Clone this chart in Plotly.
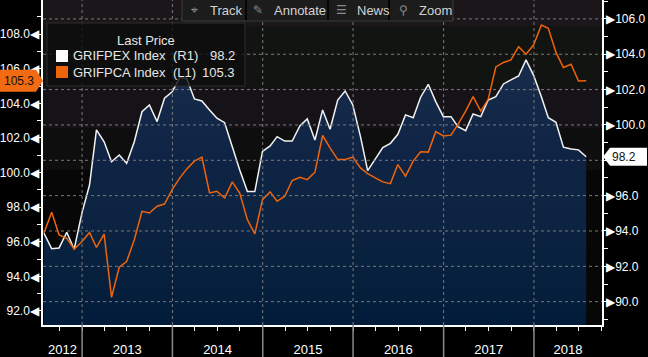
import plotly.graph_objects as go
import pandas as pd

# ---------------- data ----------------
start_month = "2012-07-01"
n_months = 73
dates = pd.date_range(start_month, periods=n_months, freq="MS") + pd.offsets.MonthEnd(0)

grifpex = [93.87, 93.00, 93.04, 93.93, 92.97, 95.00, 96.60, 99.72, 99.05, 97.92,
           98.30, 97.83, 99.05, 100.75, 101.13, 100.19, 101.51, 101.88, 102.68, 102.62,
           101.47, 101.36, 100.85, 100.38, 100.13, 98.77, 97.45, 96.23, 96.23, 98.50,
           98.81, 99.34, 99.09, 99.09, 99.94, 100.34, 99.15, 100.85, 99.76, 101.41,
           101.92, 101.13, 99.34, 97.42, 98.12, 98.72, 98.96, 99.47, 100.57, 100.41,
           101.57, 102.30, 101.32, 100.47, 100.47, 99.90, 99.68, 100.62, 100.47, 101.41,
           101.60, 102.32, 102.55, 102.77, 103.68, 102.79, 101.60, 100.41, 100.15, 98.74,
           98.64, 98.59, 98.20]

grifpca = [96.50, 97.70, 96.40, 96.20, 95.58, 96.00, 96.54, 95.67, 96.44, 92.79,
           94.53, 94.86, 96.12, 97.76, 97.66, 98.05, 98.18, 99.01, 99.69, 100.21,
           100.66, 100.89, 98.82, 98.92, 98.53, 99.46, 98.82, 97.28, 96.46, 98.43,
           98.88, 98.34, 98.63, 99.54, 99.73, 99.59, 100.02, 102.14, 101.43, 100.75,
           100.75, 100.89, 100.27, 99.94, 99.69, 99.46, 99.36, 100.46, 99.79, 100.66,
           101.20, 101.18, 102.36, 102.11, 102.16, 102.78, 103.55, 104.39, 103.55, 104.23,
           106.10, 106.36, 106.51, 107.27, 106.84, 107.38, 108.52, 108.33, 106.94, 106.07,
           106.26, 105.29, 105.30]

year_labels = ["2012", "2013", "2014", "2015", "2016", "2017", "2018"]
left_ticks = [92, 94, 96, 98, 100, 102, 104, 106, 108]
right_ticks = [90, 92, 94, 96, 98, 100, 102, 104, 106]
names = ["GRIFPEX Index", "GRIFPCA Index"]
axis_tags = ["(R1)", "(L1)"]
toolbar_labels = ["Track", "Annotate", "News", "Zoom"]
toolbar_icons = ["⌖", "✎", "☰", "⚲"]

# ---------------- layout geometry ----------------
WIDTH, HEIGHT = 648, 357
L, R, T, B = 43, 46, 0, 32
W = WIDTH - L - R
H = HEIGHT - T - B

def fx(px):
    return (px - L) / W

def fy(py):
    return 1 - (py - T) / H

x_start = pd.Timestamp("2012-07-27")
x_end = pd.Timestamp("2018-10-03")
right_range = [88.68, 107.07]
left_range = [91.19, 109.97]

WHITE = "#f2f2f2"
ORANGE = "#f0640a"
FONT = "Liberation Sans"
GRID = "#7a7a7a"

# year label centres (centre of visible part of each year)
centres = []
for y in year_labels:
    a = max(pd.Timestamp(f"{y}-01-01"), x_start)
    b = min(pd.Timestamp(f"{int(y)+1}-01-01"), x_end)
    centres.append(a + (b - a) / 2)

fig = go.Figure()

# white series with gradient fill (right scale, main axis -> drawn underneath)
fig.add_trace(go.Scatter(
    x=dates, y=grifpex, yaxis="y", mode="lines",
    line=dict(color=WHITE, width=1.5),
    fill="tozeroy",
    fillgradient=dict(type="vertical", start=right_range[0], stop=104,
                      colorscale=[[0, "#011c3a"], [0.35, "#0b2340"], [0.6, "#0f2444"], [1, "#182c4c"]]),
    hoverinfo="skip", showlegend=False))

# orange series (left scale, overlay axis -> drawn on top)
fig.add_trace(go.Scatter(
    x=dates, y=grifpca, yaxis="y2", mode="lines",
    line=dict(color=ORANGE, width=1.5),
    hoverinfo="skip", showlegend=False))

shapes = []
# background bands
bands = [(0, 26, "#1a1619"), (26, 88, "#121412"), (88, 128, "#161318"),
         (128, 170, "#0e0e0e"), (170, 325, "#070707")]
for y0, y1, c in bands:
    shapes.append(dict(type="rect", xref="paper", yref="paper", x0=0, x1=1,
                       y0=fy(y1), y1=fy(y0), fillcolor=c, line=dict(width=0), layer="below"))

# dashed gridlines
for v in right_ticks:
    shapes.append(dict(type="line", xref="paper", yref="y", x0=0, x1=1, y0=v, y1=v,
                       line=dict(color=GRID, width=1, dash="dot"), layer="above"))
for y in year_labels[1:]:
    shapes.append(dict(type="line", xref="x", yref="paper", x0=f"{y}-01-01", x1=f"{y}-01-01",
                       y0=0, y1=1, line=dict(color=GRID, width=1, dash="dot"), layer="above"))
    # year separators below axis
    shapes.append(dict(type="line", xref="x", yref="paper", x0=f"{y}-01-01", x1=f"{y}-01-01",
                       y0=fy(HEIGHT), y1=0, line=dict(color="#8a8a8a", width=1.5), layer="above"))

# legend box
shapes.append(dict(type="rect", xref="paper", yref="paper", x0=fx(47), x1=fx(245),
                   y0=fy(86), y1=fy(23), fillcolor="rgba(12,12,12,0.8)",
                   line=dict(color="#2c2c2c", width=1), layer="above"))
shapes.append(dict(type="rect", xref="paper", yref="paper", x0=fx(56), x1=fx(68),
                   y0=fy(62), y1=fy(50), fillcolor="#ffffff", line=dict(width=0), layer="above"))
shapes.append(dict(type="rect", xref="paper", yref="paper", x0=fx(56), x1=fx(68),
                   y0=fy(78), y1=fy(66), fillcolor=ORANGE, line=dict(width=0), layer="above"))

# toolbar
shapes.append(dict(type="rect", xref="paper", yref="paper", x0=fx(182), x1=fx(453),
                   y0=fy(21), y1=fy(-2), fillcolor="#1c1c1c",
                   line=dict(color="#3a3a3a", width=1), layer="above"))
for sx in [246, 328, 389]:
    shapes.append(dict(type="line", xref="paper", yref="paper", x0=fx(sx), x1=fx(sx),
                       y0=fy(20), y1=fy(0), line=dict(color="#050505", width=2), layer="above"))

# last-value tags
shapes.append(dict(type="path", xref="paper", xsizemode="pixel", xanchor=0,
                   yref="y2", ysizemode="pixel", yanchor=grifpca[-1],
                   path="M-43,-11 L-7,-11 L0,0 L-7,11 L-43,11 Z",
                   fillcolor="#f26b12", line=dict(width=0), layer="above"))
shapes.append(dict(type="path", xref="paper", xsizemode="pixel", xanchor=1,
                   yref="y", ysizemode="pixel", yanchor=grifpex[-1],
                   path="M1,0 L8,-9 L45,-9 L45,9 L8,9 Z",
                   fillcolor="#ffffff", line=dict(width=0), layer="above"))

annotations = []
annotations.append(dict(xref="paper", yref="y2", x=fx(19), y=grifpca[-1], text=f"{grifpca[-1]:.1f}",
                        showarrow=False, xanchor="center", yanchor="middle",
                        font=dict(family=FONT, size=12, color="#111111")))
annotations.append(dict(xref="paper", yref="y", x=fx(624), y=grifpex[-1], text=f"{grifpex[-1]:.1f}",
                        showarrow=False, xanchor="center", yanchor="middle",
                        font=dict(family=FONT, size=12, color="#111111")))

# legend text
annotations.append(dict(xref="paper", yref="paper", x=fx(146), y=fy(40), text="Last Price",
                        showarrow=False, xanchor="center", yanchor="middle",
                        font=dict(family=FONT, size=13, color="#e6e6e6")))
lasts = [grifpex[-1], grifpca[-1]]
for i, (nm, tg, lv) in enumerate(zip(names, axis_tags, lasts)):
    yy = fy(56 + 16 * i)
    annotations.append(dict(xref="paper", yref="paper", x=fx(71), y=yy, text=nm,
                            showarrow=False, xanchor="left", yanchor="middle",
                            font=dict(family=FONT, size=13, color="#e6e6e6")))
    annotations.append(dict(xref="paper", yref="paper", x=fx(171), y=yy, text=tg,
                            showarrow=False, xanchor="left", yanchor="middle",
                            font=dict(family=FONT, size=13, color="#e6e6e6")))
    annotations.append(dict(xref="paper", yref="paper", x=fx(237), y=yy, text=f"{lv:.1f}",
                            showarrow=False, xanchor="right", yanchor="middle",
                            font=dict(family=FONT, size=13, color="#e6e6e6")))

# toolbar text
tb_icon_x = [194, 258, 341, 403]
tb_text_x = [208, 272, 355, 417]
for lab, ic, ix, tx in zip(toolbar_labels, toolbar_icons, tb_icon_x, tb_text_x):
    annotations.append(dict(xref="paper", yref="paper", x=fx(ix), y=fy(10.5), text=ic,
                            showarrow=False, xanchor="center", yanchor="middle",
                            font=dict(family="DejaVu Sans", size=12, color="#8a8a8a")))
    annotations.append(dict(xref="paper", yref="paper", x=fx(tx), y=fy(10.5), text=lab,
                            showarrow=False, xanchor="left", yanchor="middle",
                            font=dict(family=FONT, size=13, color="#d2d2d2")))

right_text = [("" if v == 98 else f"▶{v:.1f}") for v in right_ticks]
left_text = [f"{v:.1f}◀" for v in left_ticks]

fig.update_layout(
    width=WIDTH, height=HEIGHT,
    margin=dict(l=L, r=R, t=T, b=B, autoexpand=False),
    paper_bgcolor="#000000",
    plot_bgcolor="#0a0a0a",
    showlegend=False,
    shapes=shapes,
    annotations=annotations,
    font=dict(family=FONT, color="#ffffff"),
    xaxis=dict(
        type="date", range=[x_start, x_end], showgrid=False, zeroline=False,
        automargin=False,
        tickmode="array", tickvals=centres, ticktext=year_labels, ticks="",
        tickfont=dict(family=FONT, size=13, color="#ffffff"),
        ticklabelstandoff=12,
        showline=True, linecolor="#ffffff", linewidth=1.5,
        minor=dict(ticks="outside", dtick="M3", tick0="2012-01-01", ticklen=4,
                   tickcolor="#ffffff", tickwidth=1, showgrid=False),
    ),
    yaxis=dict(
        side="right", range=right_range, showgrid=False, zeroline=False,
        automargin=False,
        tickmode="array", tickvals=right_ticks, ticktext=right_text,
        ticks="", tickfont=dict(family=FONT, size=12, color="#ffffff"),
        ticklabelstandoff=0,
        showline=True, linecolor="#ffffff", linewidth=1.5,
        minor=dict(ticks="outside", dtick=1, tick0=1, ticklen=4, tickcolor="#ffffff",
                   tickwidth=1, showgrid=False),
    ),
    yaxis2=dict(
        side="left", overlaying="y", range=left_range, showgrid=False, zeroline=False,
        automargin=False,
        tickmode="array", tickvals=left_ticks, ticktext=left_text,
        ticks="", tickfont=dict(family=FONT, size=12, color="#ffffff"),
        ticklabelstandoff=0,
        showline=True, linecolor="#ffffff", linewidth=1.5,
        minor=dict(ticks="outside", dtick=1, tick0=1, ticklen=4, tickcolor="#ffffff",
                   tickwidth=1, showgrid=False),
    ),
)

fig.write_html(
    "out.html",
    config={"displayModeBar": False},
    post_script="document.body.style.margin='0px';document.body.style.background='#000000';",
)
